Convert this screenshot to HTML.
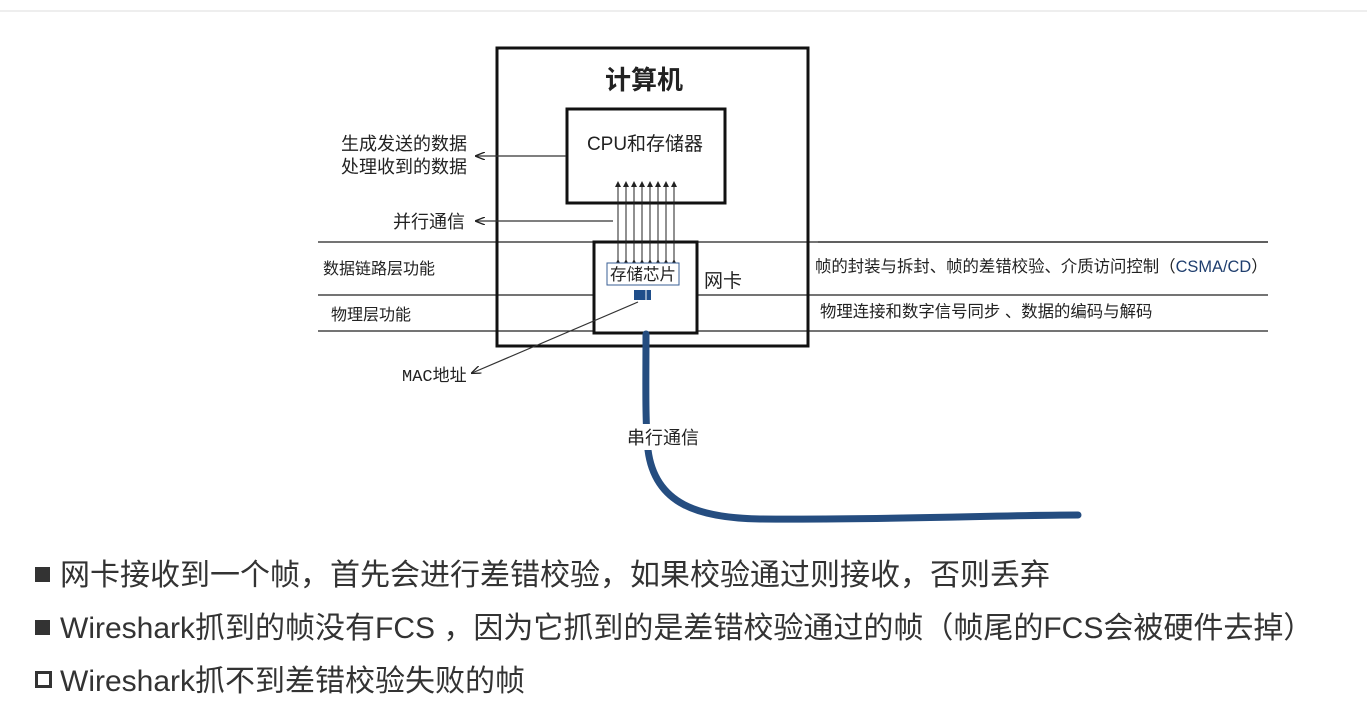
<!DOCTYPE html>
<html><head><meta charset="utf-8"><style>
body{margin:0;width:1367px;height:715px;background:#fff;overflow:hidden;position:relative;font-family:"Liberation Sans","Noto Sans CJK SC",sans-serif}
svg{position:absolute;left:0;top:0}
.b{position:absolute;left:35px;font-size:30px;color:#333;white-space:nowrap;line-height:32px}
.sq{display:inline-block;width:15px;height:15px;background:#333;margin-right:10px;vertical-align:3px}
.sq2{display:inline-block;width:11px;height:11px;border:3px solid #333;margin-right:8px;vertical-align:3px}
</style></head><body>
<svg width="1367" height="715" font-family="Liberation Sans, Noto Sans CJK SC, sans-serif">
<defs><marker id="a" markerWidth="10" markerHeight="8" refX="9" refY="4" orient="auto" markerUnits="userSpaceOnUse"><path d="M0,0 L10,4 L0,8" fill="none" stroke="#222" stroke-width="1.3"/></marker>
<marker id="s" markerWidth="6" markerHeight="6" refX="5" refY="3" orient="auto" markerUnits="userSpaceOnUse"><path d="M0,0 L6,3 L0,6z" fill="#222"/></marker></defs>
<line x1="0" y1="11" x2="1367" y2="11" stroke="#eee" stroke-width="2"/>
<g stroke="#222" stroke-width="1.2">
<line x1="318" y1="242" x2="1268" y2="242"/><line x1="318" y1="295" x2="1268" y2="295"/><line x1="318" y1="331" x2="1268" y2="331"/>
</g>
<rect x="497" y="48" width="311" height="298" fill="none" stroke="#111" stroke-width="3"/>
<rect x="567" y="109" width="158" height="94" fill="#fff" stroke="#111" stroke-width="3"/>
<rect x="594" y="242" width="103" height="91" fill="#fff" stroke="#111" stroke-width="3"/>
<line x1="818" y1="242" x2="1268" y2="242" stroke="#222" stroke-width="1.2"/>
<g stroke="#222" stroke-width="1">
<line x1="618" y1="260" x2="618" y2="182" marker-start="url(#s)" marker-end="url(#s)"/>
<line x1="626" y1="260" x2="626" y2="182" marker-start="url(#s)" marker-end="url(#s)"/>
<line x1="634" y1="260" x2="634" y2="182" marker-start="url(#s)" marker-end="url(#s)"/>
<line x1="642" y1="260" x2="642" y2="182" marker-start="url(#s)" marker-end="url(#s)"/>
<line x1="650" y1="260" x2="650" y2="182" marker-start="url(#s)" marker-end="url(#s)"/>
<line x1="658" y1="260" x2="658" y2="182" marker-start="url(#s)" marker-end="url(#s)"/>
<line x1="666" y1="260" x2="666" y2="182" marker-start="url(#s)" marker-end="url(#s)"/>
<line x1="674" y1="260" x2="674" y2="182" marker-start="url(#s)" marker-end="url(#s)"/>
</g>
<rect x="607" y="263" width="72" height="22" fill="#fff" stroke="#3a5f95" stroke-width="1"/>
<text x="643" y="280" font-size="16.5" text-anchor="middle" fill="#222">存储芯片</text>
<rect x="634" y="290" width="17" height="10" fill="#1f4e8a"/>
<line x1="646" y1="290" x2="646" y2="300" stroke="#fff" stroke-width="1"/>
<g stroke="#333" stroke-width="1.2" fill="none">
<line x1="566" y1="156" x2="476" y2="156" marker-end="url(#a)"/>
<line x1="613" y1="221" x2="476" y2="221" marker-end="url(#a)"/>
<line x1="638" y1="302" x2="472" y2="373" marker-end="url(#a)"/>
</g>
<path d="M646,334 C646,380 645,420 648,450 C655,505 700,518 760,519 C900,520 1000,515 1078,515" fill="none" stroke="#254d80" stroke-width="7" stroke-linecap="round"/>
<rect x="624" y="424" width="80" height="26" fill="#fff"/>
<text x="627" y="444" font-size="18" fill="#222">串行通信</text>
<text x="644" y="89" font-size="26" font-weight="bold" text-anchor="middle" fill="#222">计算机</text>
<text x="645" y="150" font-size="19" text-anchor="middle" fill="#222">CPU和存储器</text>
<text x="467" y="150" font-size="18" text-anchor="end" fill="#222">生成发送的数据</text>
<text x="467" y="173" font-size="18" text-anchor="end" fill="#222">处理收到的数据</text>
<text x="465" y="228" font-size="18" text-anchor="end" fill="#222">并行通信</text>
<text x="323" y="274" font-size="16" fill="#222">数据链路层功能</text>
<text x="331" y="320" font-size="16" fill="#222">物理层功能</text>
<text x="704" y="287" font-size="19" fill="#222">网卡</text>
<text x="402" y="381" font-size="17" fill="#222" font-family="Liberation Mono, Noto Sans CJK SC, monospace">MAC地址</text>
<text x="815" y="272" font-size="16.4" fill="#222">帧的封装与拆封、帧的差错校验、介质访问控制（<tspan fill="#1f3e6e">CSMA/CD</tspan>）</text>
<text x="820" y="317" font-size="16.4" fill="#222">物理连接和数字信号同步 、数据的编码与解码</text>
</svg>
<div class="b" style="top:560px"><span class="sq"></span>网卡接收到一个帧，首先会进行差错校验，如果校验通过则接收，否则丢弃</div>
<div class="b" style="top:613px"><span class="sq"></span>Wireshark抓到的帧没有FCS ，因为它抓到的是差错校验通过的帧（帧尾的FCS会被硬件去掉）</div>
<div class="b" style="top:666px"><span class="sq2"></span>Wireshark抓不到差错校验失败的帧</div>
</body></html>
